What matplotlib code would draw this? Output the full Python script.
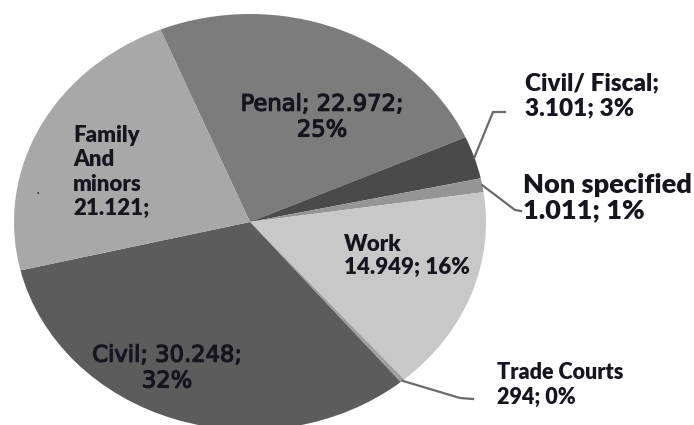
import numpy as np
import matplotlib.pyplot as plt
import matplotlib.patheffects as pe

# data, clockwise from the top
categories = ['Penal', 'Civil/ Fiscal', 'Non specified', 'Work',
              'Trade Courts', 'Civil', 'Family And minors']
cases = [22972, 3101, 1011, 14949, 294, 30248, 21121]
colors = ['#7c7c7c', '#4a4a4a', '#959595', '#c8c8c8',
          '#a0a0a0', '#5c5c5c', '#a8a8a8']
label_fmt = ['Penal; {v};\n{p}%', 'Civil/ Fiscal;\n{v}; {p}%',
             'Non specified\n{v}; {p}%', 'Work\n{v}; {p}%',
             'Trade Courts\n{v}; {p}%', 'Civil; {v};\n{p}%',
             'Family\nAnd\nminors\n{v};']

total = sum(cases)
labels = [f.format(v=f'{c:,}'.replace(',', '.'), p=round(c / total * 100))
          for f, c in zip(label_fmt, cases)]

W, H = 694, 425
CX, CY, RX, RY = 250, 222, 236, 208


def to_data(px, py):
    return (px - CX) / RX, (CY - py) / RY


fig = plt.figure(figsize=(W / 100, H / 100), dpi=100)
ax = fig.add_axes([(CX - RX) / W, (H - CY - RY) / H, 2 * RX / W, 2 * RY / H])
wedges, _ = ax.pie(cases, colors=colors, startangle=112.3, counterclock=False,
                   radius=1, wedgeprops=dict(linewidth=0))
ax.set_aspect('auto')
ax.set_xlim(-1, 1)
ax.set_ylim(-1, 1)
ax.axis('off')

# text styles: (pixel x, pixel y of block centre, ha, font, size, weight, linespacing)
styles = {
    'Penal': (322, 117, 'center', 'DejaVu Sans', 16.3, 'normal', 1.15),
    'Civil/ Fiscal': (525, 96, 'left', 'Lato', 17.5, 'heavy', 1.15),
    'Non specified': (523, 198, 'left', 'Lato', 19.5, 'heavy', 1.05),
    'Work': (344, 256, 'left', 'Lato', 16, 'heavy', 1.15),
    'Trade Courts': (497, 385, 'left', 'Lato', 15.5, 'heavy', 1.2),
    'Civil': (167, 368, 'center', 'DejaVu Sans', 16.3, 'normal', 1.15),
    'Family And minors': (73, 172, 'left', 'Lato', 16, 'heavy', 1.2),
}

for cat, lab in zip(categories, labels):
    px, py, ha, fam, size, weight, ls = styles[cat]
    x, y = to_data(px, py)
    t = ax.text(x, y, lab, ha=ha, va='center', family=fam, fontsize=size,
                fontweight=weight, linespacing=ls, color='#15151f',
                multialignment='center' if ha == 'center' else 'left',
                clip_on=False)
    if fam == 'DejaVu Sans':
        t.set_path_effects([pe.withStroke(linewidth=0.9, foreground='#15151f')])

# leader lines for the thin slices
bends = {
    'Civil/ Fiscal': [(493, 112), (505, 112)],
    'Non specified': [(515, 210), (521, 211)],
    'Trade Courts': [(460, 398), (473, 399)],
}
for cat, pts in bends.items():
    w = wedges[categories.index(cat)]
    mid = np.deg2rad((w.theta1 + w.theta2) / 2)
    xs = [np.cos(mid)] + [to_data(*p)[0] for p in pts]
    ys = [np.sin(mid)] + [to_data(*p)[1] for p in pts]
    ax.plot(xs, ys, color='#6a6a6a', lw=1.6, clip_on=False)

# small speck in the Family slice
ax.text(*to_data(38, 197), '.', ha='center', va='bottom', fontsize=10,
        color='#222222')

fig.savefig('out.png', dpi=100)
